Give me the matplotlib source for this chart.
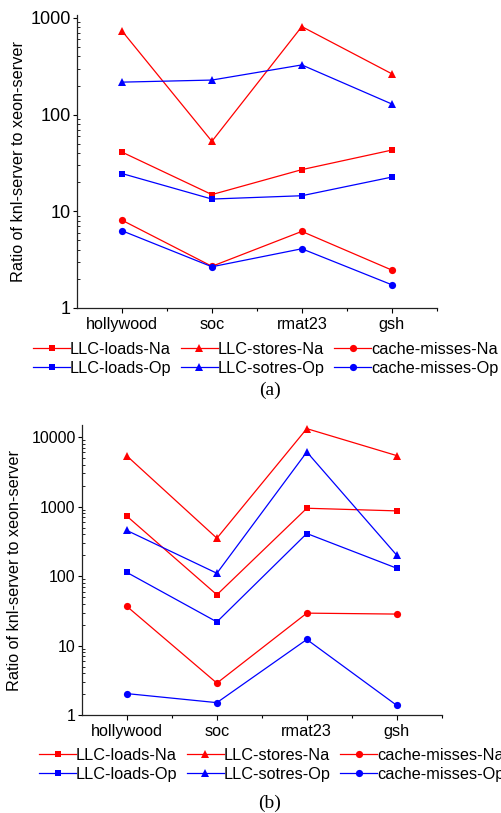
#!/usr/bin/env python3
import matplotlib

matplotlib.use("Agg")
import matplotlib.pyplot as plt
from matplotlib.ticker import FixedLocator, LogLocator, NullFormatter, FuncFormatter

categories = ["hollywood", "soc", "rmat23", "gsh"]
legend_labels = ["LLC-loads-Na", "LLC-loads-Op", "LLC-stores-Na", "LLC-sotres-Op",
                 "cache-misses-Na", "cache-misses-Op"]

# panel (a)
a_loads_na = [41, 14.9, 27, 43]
a_loads_op = [24.6, 13.4, 14.5, 22.6]
a_stores_na = [735, 53, 815, 265]
a_stores_op = [217, 228, 327, 129]
a_misses_na = [8.1, 2.7, 6.2, 2.47]
a_misses_op = [6.3, 2.67, 4.1, 1.74]

# panel (b)
b_loads_na = [726, 54, 946, 867]
b_loads_op = [113, 22, 410, 130]
b_stores_na = [5330, 351, 13180, 5400]
b_stores_op = [453, 110, 6090, 200]
b_misses_na = [36.7, 2.9, 29.4, 28.5]
b_misses_op = [2.05, 1.52, 12.3, 1.39]

RED = "#FF0000"
BLUE = "#0000FF"
W, H = 502, 813

plt.rcParams.update({
    "font.family": ["Liberation Sans", "DejaVu Sans"],
    "axes.linewidth": 0.9,
    "axes.edgecolor": "#222222",
})

fig = plt.figure(figsize=(W / 100, H / 100), dpi=100)


def fx(px):
    return px / W


def fy(py):
    return 1 - py / H


def panel(rect, series, ylim, ytick_size, ylabel_x, leg_anchor, caption, caption_y):
    ax = fig.add_axes(rect)
    x = [1, 2, 3, 4]
    styles = [
        (RED, "s", 4.8), (BLUE, "s", 4.8),
        (RED, "^", 6.0), (BLUE, "^", 6.0),
        (RED, "o", 5.2), (BLUE, "o", 5.2),
    ]
    handles = []
    for vals, (c, m, ms) in zip(series, styles):
        (h,) = ax.plot(x, vals, color=c, marker=m, markersize=ms, linewidth=0.9,
                       markeredgewidth=0)
        handles.append(h)
    ax.set_yscale("log")
    ax.set_ylim(*ylim)
    ax.set_xlim(0.5, 4.5)
    for s in ("top", "right"):
        ax.spines[s].set_visible(False)
    ax.set_xticks(x)
    ax.set_xticklabels(categories, fontsize=11.7)
    ax.xaxis.set_minor_locator(FixedLocator([1.5, 2.5, 3.5, 4.5]))
    ax.tick_params(axis="x", which="major", direction="out", length=3.3, width=0.8, pad=3)
    ax.tick_params(axis="x", which="minor", direction="out", length=2.2, width=0.8)
    ax.yaxis.set_major_locator(LogLocator(base=10, numticks=10))
    ax.yaxis.set_major_formatter(FuncFormatter(lambda v, p: f"{v:g}"))
    ax.yaxis.set_minor_locator(LogLocator(base=10, subs=range(2, 10), numticks=20))
    ax.yaxis.set_minor_formatter(NullFormatter())
    ax.tick_params(axis="y", which="major", direction="out", length=3, width=0.8,
                   pad=1.5, labelsize=ytick_size)
    ax.tick_params(axis="y", which="minor", direction="in", length=1.8, width=0.6)

    fig.text(ylabel_x, rect[1] + rect[3] / 2, "Ratio of knl-server to xeon-server",
             rotation=90, ha="center", va="center", fontsize=11.7)

    fig.legend(handles, legend_labels, ncol=3, loc="upper left",
               bbox_to_anchor=leg_anchor, frameon=False, fontsize=11.7,
               handlelength=2.28, handletextpad=0.0, columnspacing=0.57,
               labelspacing=0.22, borderpad=0, borderaxespad=0)
    fig.text(fx(270), caption_y, caption, ha="center", va="center", fontsize=14,
             family=["Liberation Serif", "DejaVu Serif"])
    return ax


# (a)
panel(
    [fx(77), fy(308), fx(436.7) - fx(77), (308 - 15) / H],
    [a_loads_na, a_loads_op, a_stores_na, a_stores_op, a_misses_na, a_misses_op],
    (1, 1074), 13, fx(19), (fx(33), fy(342)), "(a)", fy(390),
)

# (b)
panel(
    [fx(82), fy(715.3), fx(441.7) - fx(82), (715.3 - 425) / H],
    [b_loads_na, b_loads_op, b_stores_na, b_stores_op, b_misses_na, b_misses_op],
    (1, 14870), 11.5, fx(15), (fx(39), fy(748)), "(b)", fy(803),
)

fig.savefig("out.png", dpi=100)
